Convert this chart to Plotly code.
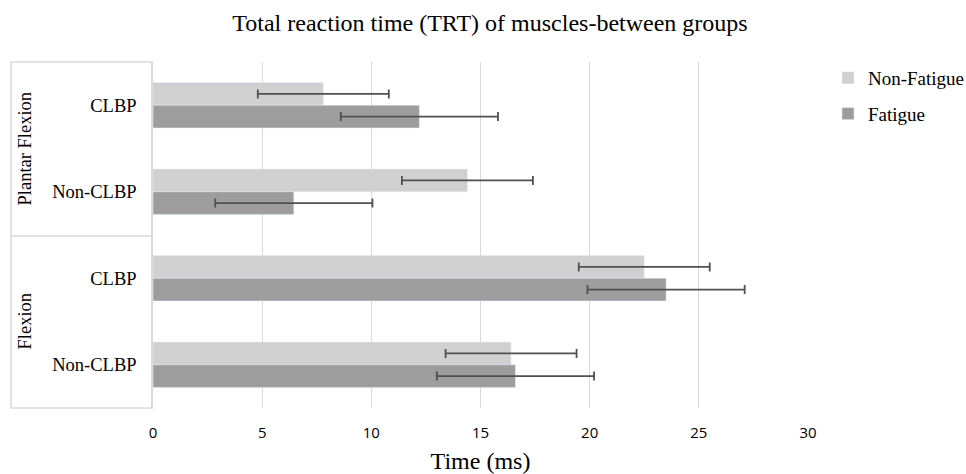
import plotly.graph_objects as go

# ---- data ----
groups = ["Plantar Flexion", "Plantar Flexion", "Flexion", "Flexion"]
subjects = ["CLBP", "Non-CLBP", "CLBP", "Non-CLBP"]
non_fatigue = [7.8, 14.4, 22.5, 16.4]
non_fatigue_err = [3.0, 3.0, 3.0, 3.0]
fatigue = [12.2, 6.45, 23.5, 16.6]
fatigue_err = [3.6, 3.6, 3.6, 3.6]
x_ticks = [0, 5, 10, 15, 20, 25, 30]

cat_ids = [f"{g} | {s}" for g, s in zip(groups, subjects)]

# ---- layout geometry (pixels) ----
W, H = 966, 474
L, R, T, B = 153, 808, 62, 408
pw, ph = R - L, B - T


def px(x):
    return (x - L) / pw


def py(y):
    return (B - y) / ph


serif = "Liberation Serif, Times New Roman, serif"
sans = "Open Sans, Liberation Sans, Arial, sans-serif"
grid = "#d9d9d9"
errc = "#505050"

fig = go.Figure()
fig.add_trace(go.Bar(
    name="Non-Fatigue", y=cat_ids, x=non_fatigue, orientation="h",
    marker=dict(color="#d0d0d0"), legendgroup="a",
    error_x=dict(type="data", array=non_fatigue_err, color=errc, thickness=1.8, width=4.5),
))
fig.add_trace(go.Bar(
    name="Fatigue", y=cat_ids, x=fatigue, orientation="h",
    marker=dict(color="#9c9d9c"), legendgroup="b",
    error_x=dict(type="data", array=fatigue_err, color=errc, thickness=1.8, width=4.5),
))

shapes = []
for yy in [T, (T + B) / 2 + 1, B]:
    shapes.append(dict(type="line", xref="paper", yref="paper", x0=px(11), x1=px(L), y0=py(yy), y1=py(yy),
                       line=dict(color=grid, width=1.5)))
shapes.append(dict(type="line", xref="paper", yref="paper", x0=px(11), x1=px(11), y0=py(T), y1=py(B),
                   line=dict(color=grid, width=1.5)))

annotations = []
group_names = []
for g in groups:
    if g not in group_names:
        group_names.append(g)
for i, g in enumerate(group_names):
    yc = T + (i + 0.5) * ph / 2
    annotations.append(dict(text=g, xref="paper", yref="paper", x=px(24), y=py(yc), textangle=-90,
                            showarrow=False, font=dict(family=serif, size=18.5, color="#000000"),
                            xanchor="center", yanchor="middle"))

fig.update_layout(
    width=W, height=H,
    margin=dict(l=L, r=W - R, t=T, b=H - B, autoexpand=False),
    paper_bgcolor="white", plot_bgcolor="white",
    title=dict(text="Total reaction time (TRT) of muscles-between groups", x=490 / W,
               xanchor="center", y=1 - 23 / H, yanchor="middle",
               font=dict(family=serif, size=24, color="#000000")),
    barmode="group", bargap=0.476, bargroupgap=0,
    xaxis=dict(range=[0, 30], tickvals=x_ticks, showgrid=True, gridcolor=grid, gridwidth=1.2,
               zeroline=False, showline=False, ticks="", ticklabelstandoff=14,
               tickfont=dict(family=sans, size=15, color="#000000"),
               title=dict(text="Time (ms)", font=dict(family=serif, size=24, color="#000000"), standoff=14)),
    yaxis=dict(categoryorder="array", categoryarray=cat_ids, autorange="reversed",
               tickvals=cat_ids, ticktext=subjects, showgrid=False, zeroline=False,
               showline=True, linecolor=grid, linewidth=1.5, ticks="", ticklabelstandoff=11,
               tickfont=dict(family=serif, size=18.5, color="#000000")),
    legend=dict(xref="container", yref="container", x=828 / W, y=1 - 59 / H, xanchor="left", yanchor="top",
                traceorder="grouped", font=dict(family=serif, size=19, color="#000000"),
                itemwidth=30, tracegroupgap=8),
    shapes=shapes, annotations=annotations,
)

fig.write_html("out.html")
